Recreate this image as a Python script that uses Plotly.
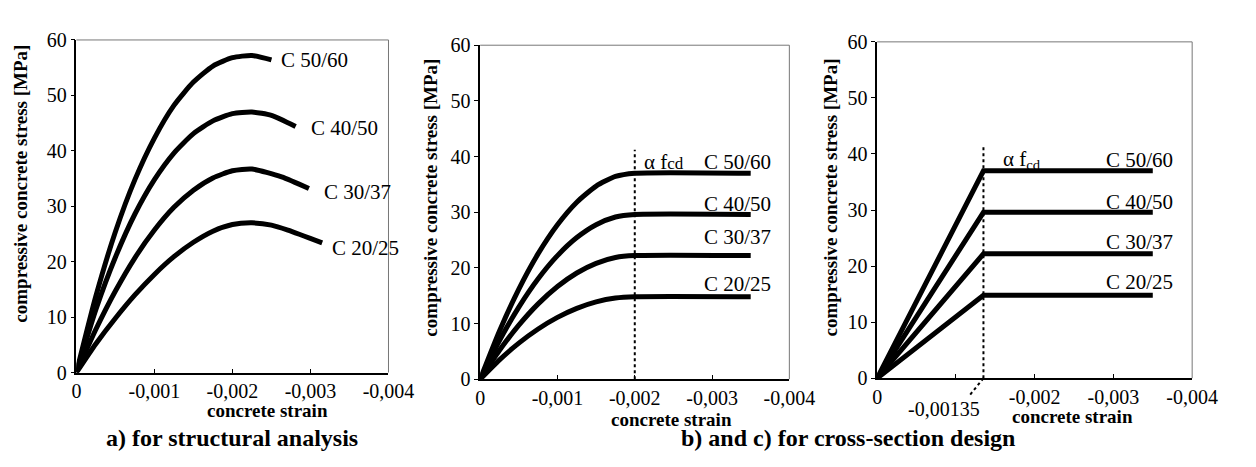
import plotly.graph_objects as go

FONT = "Liberation Serif, Times New Roman, serif"

# a) for structural analysis  (strain, stress in MPa)
a_eps_50 = [0, -0.00025, -0.0005, -0.00075, -0.001, -0.00125, -0.0015, -0.00175, -0.002, -0.00225, -0.0025]
a_sig_50 = [0, 13.8, 25.4, 34.8, 42.3, 48.2, 52.4, 55.3, 56.8, 57.2, 56.4]
a_eps_40 = [0, -0.00025, -0.0005, -0.00075, -0.001, -0.00125, -0.0015, -0.00175, -0.002, -0.00225, -0.0025, -0.00281]
a_sig_40 = [0, 11.4, 20.8, 28.6, 34.8, 39.6, 43.1, 45.4, 46.7, 47.0, 46.4, 44.4]
a_eps_30 = [0, -0.00025, -0.0005, -0.00075, -0.001, -0.00125, -0.0015, -0.00175, -0.002, -0.00225, -0.00263, -0.00298]
a_sig_30 = [0, 7.8, 14.7, 20.7, 25.7, 29.8, 32.9, 35.1, 36.4, 36.7, 35.3, 33.2]
a_eps_20 = [0, -0.00025, -0.0005, -0.00075, -0.001, -0.00125, -0.0015, -0.00175, -0.002, -0.00225, -0.0025, -0.00271, -0.00315]
a_sig_20 = [0, 5.2, 9.8, 14.0, 17.7, 20.9, 23.5, 25.5, 26.7, 27.0, 26.6, 25.7, 23.4]

# b) parabola-rectangle
b_eps = [0, -0.00025, -0.0005, -0.00075, -0.001, -0.00125, -0.0015, -0.00175, -0.002, -0.0035]
b_sig_50 = [0, 8.67, 16.19, 22.55, 27.75, 31.80, 34.69, 36.42, 37.0, 37.0]
b_sig_40 = [0, 6.94, 12.95, 18.04, 22.2, 25.44, 27.75, 29.14, 29.6, 29.6]
b_sig_30 = [0, 5.20, 9.71, 13.53, 16.65, 19.08, 20.81, 21.85, 22.2, 22.2]
b_sig_20 = [0, 3.47, 6.48, 9.02, 11.1, 12.72, 13.88, 14.57, 14.8, 14.8]

# c) bilinear
c_eps = [0, -0.00135, -0.0035]
c_sig_50 = [0, 37.0, 37.0]
c_sig_40 = [0, 29.6, 29.6]
c_sig_30 = [0, 22.2, 22.2]
c_sig_20 = [0, 14.8, 14.8]

grades = ["C 50/60", "C 40/50", "C 30/37", "C 20/25"]
x_ticks = [0, -0.001, -0.002, -0.003, -0.004]
x_text = ["0", "-0,001", "-0,002", "-0,003", "-0,004"]
x_ticks_c = [0, -0.002, -0.003, -0.004]
x_text_c = ["0", "-0,002", "-0,003", "-0,004"]
y_ticks = [0, 10, 20, 30, 40, 50, 60]

fig = go.Figure()

def curve(x, y, n, smooth=True):
    fig.add_trace(go.Scatter(
        x=x, y=y, mode="lines", xaxis="x" + n, yaxis="y" + n,
        line=dict(color="black", width=5, shape="spline" if smooth else "linear", smoothing=0.6),
        showlegend=False, hoverinfo="skip"))

for x, y in [(a_eps_50, a_sig_50), (a_eps_40, a_sig_40), (a_eps_30, a_sig_30), (a_eps_20, a_sig_20)]:
    curve(x, y, "")
for y in [b_sig_50, b_sig_40, b_sig_30, b_sig_20]:
    curve(b_eps, y, "2")
for y in [c_sig_50, c_sig_40, c_sig_30, c_sig_20]:
    curve(c_eps, y, "3", smooth=False)

tickfont = dict(family=FONT, size=20, color="black")

def xax(dom, anchor, vals, text):
    return dict(domain=dom, anchor=anchor, range=[0, -0.004], tickvals=vals, ticktext=text,
                showgrid=False, zeroline=False, showline=True, linecolor="black", linewidth=1.5,
                ticks="inside", ticklen=4, tickcolor="black", tickfont=tickfont,
                minor=dict(tickvals=[-0.001], ticks="inside", ticklen=4, tickcolor="black"))

def yax(dom, anchor):
    return dict(domain=dom, anchor=anchor, range=[0, 60], tickvals=y_ticks,
                showgrid=False, zeroline=False, showline=True, linecolor="black", linewidth=1.5,
                ticks="outside", ticklen=4, tickcolor="black", tickfont=tickfont)

shapes = []
for n in ["", "2", "3"]:
    shapes.append(dict(type="line", xref="x" + n + " domain", yref="y" + n + " domain",
                       x0=0, x1=1, y0=1, y1=1, line=dict(color="#777", width=1)))
    shapes.append(dict(type="line", xref="x" + n + " domain", yref="y" + n + " domain",
                       x0=1, x1=1, y0=0, y1=1, line=dict(color="#777", width=1)))

# dotted marker lines
shapes.append(dict(type="line", xref="x2", yref="y2", x0=-0.002, x1=-0.002, y0=0, y1=41.2,
                   line=dict(color="black", width=2, dash="dot")))
shapes.append(dict(type="line", xref="x3", yref="y3", x0=-0.00135, x1=-0.00135, y0=0, y1=41.7,
                   line=dict(color="black", width=2, dash="dot")))
shapes.append(dict(type="line", xref="x3 domain", yref="y3 domain", x0=0.3375, x1=0.29, y0=0, y1=-0.055,
                   line=dict(color="black", width=2, dash="dot")))

lab = dict(family=FONT, size=21, color="black")
ann = []
# a) labels
for g, x, y in zip(grades, [-0.0026, -0.002975, -0.00315, -0.00325], [56.4, 44.2, 32.5, 22.5]):
    ann.append(dict(x=x, y=y, xref="x", yref="y", text=g, showarrow=False,
                    xanchor="left", yanchor="middle", font=lab))
# b) labels
for g, y in zip(grades, [39.1, 31.5, 25.5, 17.1]):
    ann.append(dict(x=-0.00379, y=y, xref="x2", yref="y2", text=g, showarrow=False,
                    xanchor="right", yanchor="middle", font=lab))
ann.append(dict(x=-0.0021, y=39.1, xref="x2", yref="y2", showarrow=False, xanchor="left",
                yanchor="middle", font=lab, text="α f<span style='font-size:17px'>cd</span>"))
# c) labels
for g, y in zip(grades, [38.9, 31.5, 24.3, 17.2]):
    ann.append(dict(x=-0.00378, y=y, xref="x3", yref="y3", text=g, showarrow=False,
                    xanchor="right", yanchor="middle", font=lab))
ann.append(dict(x=-0.00157, y=38.9, xref="x3", yref="y3", showarrow=False, xanchor="left",
                yanchor="middle", font=lab, text="α f<sub>cd</sub>"))
ann.append(dict(x=955 / 1256, y=1 - 409 / 467, xref="paper", yref="paper", text="-0,00135",
                showarrow=False, font=tickfont, xanchor="center", yanchor="middle"))

# axis titles
ttl = dict(family=FONT, size=19, color="black", weight="bold")
for xp, yp in [(8, 173), (428, 187), (838, 187)]:
    ann.append(dict(x=xp / 1256, y=1 - yp / 467, xref="paper", yref="paper", showarrow=False,
                    text="compressive concrete stress [MPa]", textangle=-90, font=ttl,
                    xanchor="center", yanchor="middle"))
for xp, yp in [(261, 411), (675, 420), (1086, 417)]:
    ann.append(dict(x=xp / 1256, y=1 - yp / 467, xref="paper", yref="paper", showarrow=False,
                    text="concrete strain", font=ttl, xanchor="center", yanchor="middle"))

# captions
cap = dict(family=FONT, size=24, color="black", weight="bold")
ann.append(dict(x=225 / 1256, y=1 - 440 / 467, xref="paper", yref="paper", showarrow=False,
                text="a) for structural analysis", font=cap, xanchor="center", yanchor="middle"))
ann.append(dict(x=856 / 1256, y=1 - 440 / 467, xref="paper", yref="paper", showarrow=False,
                text="b) and c) for cross-section design", font=cap, xanchor="center", yanchor="middle"))

fig.update_layout(
    width=1256, height=467,
    margin=dict(l=0, r=0, t=0, b=0),
    paper_bgcolor="white", plot_bgcolor="white",
    xaxis=xax([65 / 1256, 385 / 1256], "y", x_ticks, x_text),
    yaxis=yax([96 / 467, 445 / 467], "x"),
    xaxis2=xax([479 / 1256, 796 / 1256], "y2", x_ticks, x_text),
    yaxis2=yax([89 / 467, 439.5 / 467], "x2"),
    xaxis3=xax([886 / 1256, 1209 / 1256], "y3", x_ticks_c, x_text_c),
    yaxis3=yax([90 / 467, 443 / 467], "x3"),
    shapes=shapes,
    annotations=ann,
)

fig.write_html("out.html")
